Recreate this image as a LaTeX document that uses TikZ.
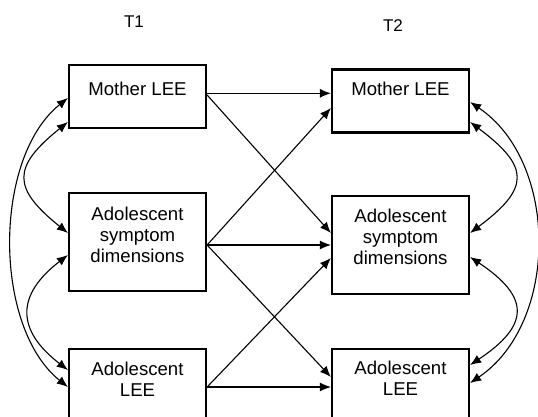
\documentclass[tikz,border=0pt]{standalone}
\usepackage{fontspec}
\setmainfont{Liberation Sans}
\usetikzlibrary{arrows.meta,calc}
\begin{document}
\begin{tikzpicture}[x=1pt,y=-1pt,
        var/.style={draw,line width=2.2pt,minimum width=137pt,inner sep=0pt},
        txt/.style={anchor=north,inner sep=0pt,align=center,font=\fontsize{18.6}{21}\selectfont},
        time/.style={anchor=base,inner sep=0pt,font=\fontsize{17}{20}\selectfont},
        reg/.style={-{Latex[length=11pt,width=9pt]},line width=1.1pt},
        cov/.style={{Latex[length=11pt,width=9pt]}-{Latex[length=11pt,width=9pt]},line width=1.1pt}]
        \useasboundingbox (0,0) rectangle (538,416);

        \node[time] at (134,27) (t1) {T1};
        \node[time] at (393,31.7) (t2) {T2};

        \node[var, minimum height=63pt, label={[txt,yshift=-18.2pt]north:Mother LEE}] at (137.5,96.5) (m1) {};
        \node[var, minimum height=98pt, label={[txt,yshift=-14.4pt]north:Adolescent\\symptom\\dimensions}] at (137.5,242.3) (s1) {};
        \node[var, minimum height=90pt, label={[txt,yshift=-13.4pt]north:Adolescent\\LEE}] at (137.5,394.3) (l1) {};
        \node[var, minimum height=63pt, label={[txt,yshift=-13.4pt]north:Mother LEE}] at (400.5,101) (m2) {};
        \node[var, minimum height=98pt, label={[txt,yshift=-13.4pt]north:Adolescent\\symptom\\dimensions}] at (400.5,245.3) (s2) {};
        \node[var, minimum height=90pt, label={[txt,yshift=-12.7pt]north:Adolescent\\LEE}] at (400.5,394.3) (l2) {};

        \path[reg]
            ($(m1.east)+(0,-3.2)$) edge ($(m2.west)+(0,-7.7)$)
            ($(m1.east)+(0,-1.5)$) edge ($(s2.west)+(0,-12.3)$)
            ($(s1.east)+(0,2.7)$) edge ($(m2.west)+(0,7)$)
            ($(s1.east)+(0,2.7)$) edge ($(s2.west)+(0,-0.3)$)
            ($(s1.east)+(0,2.7)$) edge ($(l2.west)+(0,-17.3)$)
            ($(l1.east)+(0,-7.3)$) edge ($(s2.west)+(0,12.7)$)
            ($(l1.east)+(0,-7.3)$) edge ($(l2.west)+(0,-7.3)$)
            ;

        \draw[cov] ($(m1.west)+(0,1.5)$) .. controls +(-75,60) and +(-75,-60) .. ($(l1.west)+(0,-7.3)$);
        \draw[cov] ($(m1.west)+(0,25.5)$) .. controls +(-56,45) and +(-56,-45) .. ($(s1.west)+(0,-9.3)$);
        \draw[cov] ($(s1.west)+(0,12.7)$) .. controls +(-52,40) and +(-52,-40) .. ($(l1.west)+(0,-24.3)$);
        \draw[cov] ($(m2.east)+(0,1)$) .. controls +(89,60) and +(89,-60) .. ($(l2.east)+(0,-11.3)$);
        \draw[cov] ($(m2.east)+(0,21)$) .. controls +(60,45) and +(60,-45) .. ($(s2.east)+(0,-12.3)$);
        \draw[cov] ($(s2.east)+(0,11.7)$) .. controls +(60,40) and +(60,-40) .. ($(l2.east)+(0,-29.3)$);
\end{tikzpicture}
\end{document}
